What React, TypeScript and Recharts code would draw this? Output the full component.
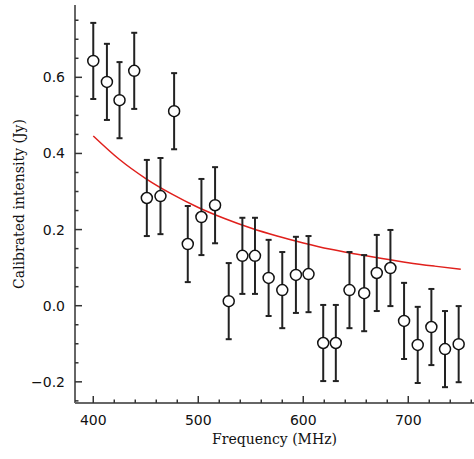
import React from 'react';
import { ComposedChart, Scatter, Line, XAxis, YAxis, ErrorBar } from 'recharts';

// Measured points
const freqs = [400, 413, 425, 439, 451, 464, 477, 490, 503, 516, 529, 542, 554, 567, 580, 593, 605, 619, 631, 644, 658, 670, 683, 696, 709, 722, 735, 748];
const flux = [0.643, 0.588, 0.540, 0.617, 0.283, 0.288, 0.511, 0.162, 0.233, 0.264, 0.012, 0.131, 0.131, 0.073, 0.041, 0.081, 0.083, -0.098, -0.098, 0.041, 0.033, 0.086, 0.099, -0.040, -0.103, -0.056, -0.114, -0.101];
const fluxErr = [0.1, 0.1, 0.1, 0.1, 0.1, 0.1, 0.1, 0.1, 0.1, 0.1, 0.1, 0.1, 0.1, 0.1, 0.1, 0.1, 0.1, 0.1, 0.1, 0.1, 0.1, 0.1, 0.1, 0.1, 0.1, 0.1, 0.1, 0.1];

// Fitted curve
const fitFreqs = [400, 425, 450, 475, 500, 525, 550, 575, 600, 625, 650, 675, 700, 725, 750];
const fitFlux = [0.446, 0.384, 0.334, 0.293, 0.258, 0.229, 0.204, 0.183, 0.165, 0.149, 0.136, 0.124, 0.113, 0.104, 0.096];

// Axes
const xDomain = [382.6, 762.6];
const yDomain = [-0.2556, 0.79];
const xTicks = [400, 420, 440, 460, 480, 500, 520, 540, 560, 580, 600, 620, 640, 660, 680, 700, 720, 740, 760];
const xMajor = [400, 500, 600, 700];
const yTicks = [-0.25, -0.2, -0.15, -0.1, -0.05, 0, 0.05, 0.1, 0.15, 0.2, 0.25, 0.3, 0.35, 0.4, 0.45, 0.5, 0.55, 0.6, 0.65, 0.7, 0.75];
const yMajor = [-0.2, 0, 0.2, 0.4, 0.6];

const xTitle = 'Frequency (MHz)';
const yTitle = 'Calibrated intensity (Jy)';

const points = freqs.map((f, i) => ({ f, s: flux[i], e: fluxErr[i] }));
const fit = fitFreqs.map((f, i) => ({ f, s: fitFlux[i] }));

const TICK_COLOR = '#333';
const LABEL_FONT = '"DejaVu Sans", sans-serif';
const TITLE_FONT = '"DejaVu Serif", serif';
const MAJOR_LEN = 7;
const MINOR_LEN = 3.5;

const isIn = (v: number, arr: number[]) => arr.some((m) => Math.abs(m - v) < 1e-9);
const fmtY = (v: number) => {
  const s = v.toFixed(1);
  return s.startsWith('-') ? '\u2212' + s.slice(1) : s;
};

const BottomTick = (props: any) => {
  const { x, y, payload } = props;
  const major = isIn(payload.value, xMajor);
  return (
    <g>
      <line x1={x} y1={y} x2={x} y2={y - (major ? MAJOR_LEN : MINOR_LEN)} stroke={TICK_COLOR} strokeWidth={1.5} />
      {major && (
        <text x={x} y={y + 22} textAnchor="middle" fontFamily={LABEL_FONT} fontSize={14} fill="#111">
          {payload.value}
        </text>
      )}
    </g>
  );
};

const TopTick = (props: any) => {
  const { x, y, payload } = props;
  const major = isIn(payload.value, xMajor);
  return <line x1={x} y1={y} x2={x} y2={y + (major ? MAJOR_LEN : MINOR_LEN)} stroke={TICK_COLOR} strokeWidth={1.5} />;
};

const LeftTick = (props: any) => {
  const { x, y, payload } = props;
  const major = isIn(payload.value, yMajor);
  return (
    <g>
      <line x1={x} y1={y} x2={x + (major ? MAJOR_LEN : MINOR_LEN)} y2={y} stroke={TICK_COLOR} strokeWidth={1.5} />
      {major && (
        <text x={x - 10} y={y} dy="0.36em" textAnchor="end" fontFamily={LABEL_FONT} fontSize={14} fill="#111">
          {fmtY(payload.value)}
        </text>
      )}
    </g>
  );
};

const RightTick = (props: any) => {
  const { x, y, payload } = props;
  const major = isIn(payload.value, yMajor);
  return <line x1={x} y1={y} x2={x - (major ? MAJOR_LEN : MINOR_LEN)} y2={y} stroke={TICK_COLOR} strokeWidth={1.5} />;
};

const Marker = (props: any) => {
  const { cx, cy } = props;
  if (cx == null || cy == null) return null;
  return <circle cx={cx} cy={cy} r={5.5} fill="#fff" stroke="#111" strokeWidth={1.5} />;
};

const axisLine = { stroke: '#666', strokeWidth: 2 };

export default function App() {
  return (
    <div style={{ position: 'absolute', left: 0, top: 0, width: 474, height: 459, background: '#fff' }}>
      <ComposedChart width={474} height={459} margin={{ top: 5, right: 0, bottom: 0, left: 0 }}>
        <XAxis
          xAxisId="b"
          dataKey="f"
          type="number"
          domain={xDomain}
          allowDataOverflow
          ticks={xTicks}
          interval={0}
          tickSize={0}
          tickMargin={0}
          tick={<BottomTick />}
          height={56}
          axisLine={axisLine}
          tickLine={false}
          label={{ value: xTitle, position: 'insideBottom', offset: 15, style: { fontFamily: TITLE_FONT, fontSize: 14, fill: '#111' } }}
        />
        <XAxis
          xAxisId="t"
          orientation="top"
          dataKey="f"
          type="number"
          domain={xDomain}
          allowDataOverflow
          ticks={xTicks}
          interval={0}
          tickSize={0}
          tickMargin={0}
          tick={<TopTick />}
          height={0}
          axisLine={axisLine}
          tickLine={false}
        />
        <YAxis
          yAxisId="l"
          dataKey="s"
          type="number"
          domain={yDomain}
          allowDataOverflow
          ticks={yTicks}
          interval={0}
          tickSize={0}
          tickMargin={0}
          tick={<LeftTick />}
          width={75}
          axisLine={axisLine}
          tickLine={false}
          label={{ value: yTitle, angle: -90, position: 'insideLeft', offset: 19, style: { textAnchor: 'middle', fontFamily: TITLE_FONT, fontSize: 14, fill: '#111' } }}
        />
        <YAxis
          yAxisId="r"
          orientation="right"
          dataKey="s"
          type="number"
          domain={yDomain}
          allowDataOverflow
          ticks={yTicks}
          interval={0}
          tickSize={0}
          tickMargin={0}
          tick={<RightTick />}
          width={0}
          axisLine={axisLine}
          tickLine={false}
        />
        <Line
          xAxisId="b"
          yAxisId="l"
          data={fit}
          dataKey="s"
          type="monotone"
          dot={false}
          activeDot={false}
          stroke="#e0201c"
          strokeWidth={1.5}
          isAnimationActive={false}
        />
        <Scatter xAxisId="b" yAxisId="l" data={points} dataKey="s" shape={<Marker />} isAnimationActive={false}>
          <ErrorBar dataKey="e" direction="y" width={3} stroke="#222" strokeWidth={2} isAnimationActive={false} />
        </Scatter>
      </ComposedChart>
    </div>
  );
}
